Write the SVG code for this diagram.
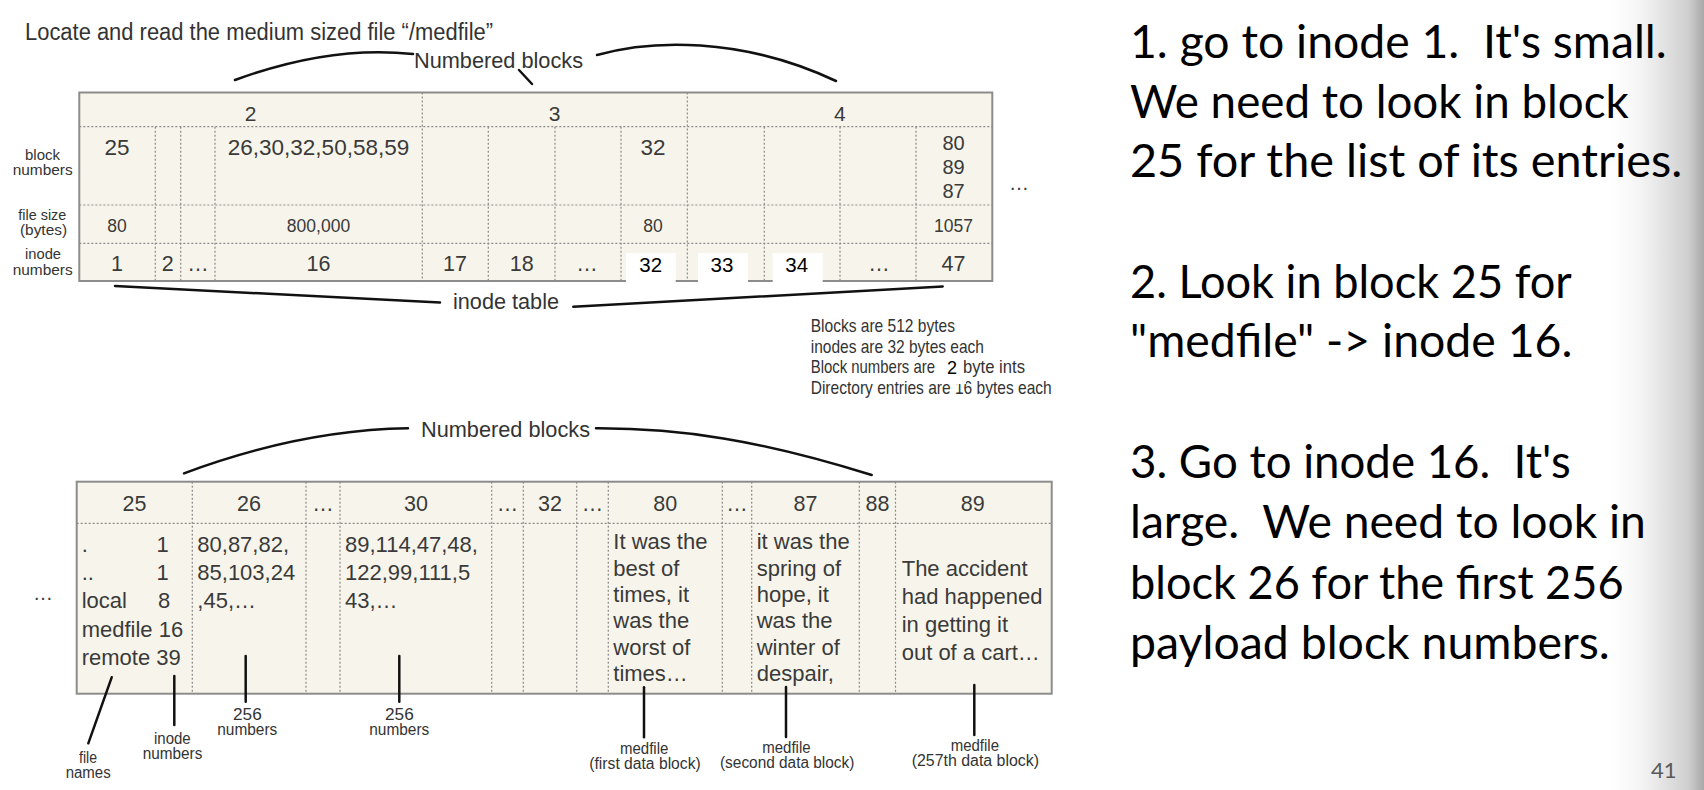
<svg xmlns="http://www.w3.org/2000/svg" width="1704" height="790" viewBox="0 0 1704 790">
<defs>
<linearGradient id="edge" x1="0" y1="0" x2="1" y2="0">
<stop offset="0" stop-color="#ffffff" stop-opacity="0"/>
<stop offset="0.55" stop-color="#e8e8e8" stop-opacity="1"/>
<stop offset="0.85" stop-color="#cfcfcf"/>
<stop offset="1" stop-color="#a8a8a8"/>
</linearGradient>
</defs>
<style>
.tbl{fill:#f7f5eb;stroke:#8c8c8c;stroke-width:2}
.dot{stroke:#8a8a8a;stroke-width:1.2;stroke-dasharray:2 2;fill:none}
.cond{font-family:"Liberation Sans Narrow","Liberation Sans",Arial,sans-serif;fill:#333}
.num{font-family:"Liberation Sans",Arial,sans-serif;fill:#3a3a3a}
.blk{font-family:"Liberation Sans",Arial,sans-serif;fill:#000}
.big{font-family:Lato,"Open Sans",sans-serif;font-size:46px;fill:#000}
.ln{stroke:#111;stroke-width:2.5;fill:none;stroke-linecap:round}
.c{text-anchor:middle}
</style>
<rect x="0" y="0" width="1704" height="790" fill="#ffffff"/>
<rect x="1600" y="0" width="104" height="790" fill="url(#edge)"/>

<g id="title">
<text class="cond" x="25" y="40" font-size="23" textLength="468" lengthAdjust="spacingAndGlyphs">Locate and read the medium sized file “/medfile”</text>
</g>

<g id="inode-table">
<rect class="tbl" x="79.3" y="92.5" width="913" height="188.5"/>
<line class="dot" x1="79.3" y1="126.7" x2="992.3" y2="126.7"/>
<line class="dot" x1="79.3" y1="205" x2="992.3" y2="205"/>
<line class="dot" x1="79.3" y1="243.3" x2="992.3" y2="243.3"/>
<line class="dot" x1="422.3" y1="92.5" x2="422.3" y2="281"/>
<line class="dot" x1="687.3" y1="92.5" x2="687.3" y2="281"/>
<line class="dot" x1="155.3" y1="126.7" x2="155.3" y2="281"/>
<line class="dot" x1="180.7" y1="126.7" x2="180.7" y2="281"/>
<line class="dot" x1="215" y1="126.7" x2="215" y2="281"/>
<line class="dot" x1="488.3" y1="126.7" x2="488.3" y2="281"/>
<line class="dot" x1="555" y1="126.7" x2="555" y2="281"/>
<line class="dot" x1="621" y1="126.7" x2="621" y2="281"/>
<line class="dot" x1="764.3" y1="126.7" x2="764.3" y2="281"/>
<line class="dot" x1="840" y1="126.7" x2="840" y2="281"/>
<line class="dot" x1="916" y1="126.7" x2="916" y2="281"/>
<rect x="626" y="253" width="49.7" height="30.5" fill="#ffffff"/>
<rect x="698" y="253" width="50" height="30.5" fill="#ffffff"/>
<rect x="772.7" y="253" width="50" height="30.5" fill="#ffffff"/>
<g class="num c" font-size="21">
<text x="250.7" y="121">2</text>
<text x="554.7" y="121">3</text>
<text x="839.8" y="121">4</text>
</g>
<g class="num c" font-size="22.5">
<text x="117" y="155">25</text>
<text x="318.5" y="155">26,30,32,50,58,59</text>
<text x="653" y="155">32</text>
</g>
<g class="num c" font-size="20">
<text x="953.5" y="150">80</text>
<text x="953.5" y="174">89</text>
<text x="953.5" y="198.3">87</text>
</g>
<g class="num c" font-size="17.5">
<text x="117" y="231.7">80</text>
<text x="318.5" y="231.7">800,000</text>
<text x="653" y="231.7">80</text>
<text x="953.5" y="231.7">1057</text>
</g>
<g class="num c" font-size="21.5">
<text x="117" y="271">1</text>
<text x="167.7" y="271">2</text>
<text x="198" y="271">…</text>
<text x="318.5" y="271">16</text>
<text x="455" y="271">17</text>
<text x="521.7" y="271">18</text>
<text x="587" y="271">…</text>
<text x="879" y="271">…</text>
<text x="953.5" y="271">47</text>
</g>
<g class="blk c" font-size="20.5">
<text x="650.7" y="272.3">32</text>
<text x="722" y="272.3">33</text>
<text x="796.7" y="272.3">34</text>
</g>
<text class="num c" x="1019" y="190" font-size="20">…</text>
</g>

<g id="row-labels">
<text class="cond" x="25" y="160" font-size="15" textLength="35" lengthAdjust="spacingAndGlyphs">block</text>
<text class="cond" x="12.7" y="175" font-size="15" textLength="60" lengthAdjust="spacingAndGlyphs">numbers</text>
<text class="cond" x="18.3" y="219.5" font-size="15" textLength="48" lengthAdjust="spacingAndGlyphs">file size</text>
<text class="cond" x="20" y="234.5" font-size="15" textLength="47" lengthAdjust="spacingAndGlyphs">(bytes)</text>
<text class="cond" x="25" y="259" font-size="15" textLength="36" lengthAdjust="spacingAndGlyphs">inode</text>
<text class="cond" x="12.7" y="275" font-size="15" textLength="60" lengthAdjust="spacingAndGlyphs">numbers</text>
</g>

<g id="top-labels">
<text class="cond" x="414" y="68" font-size="22" textLength="169" lengthAdjust="spacingAndGlyphs">Numbered blocks</text>
<text class="cond" x="453" y="309" font-size="22" textLength="106" lengthAdjust="spacingAndGlyphs">inode table</text>
</g>

<g id="notes">
<text class="cond" x="810.7" y="332" font-size="19" textLength="144.3" lengthAdjust="spacingAndGlyphs">Blocks are 512 bytes</text>
<text class="cond" x="810.7" y="353" font-size="19" textLength="173.3" lengthAdjust="spacingAndGlyphs">inodes are 32 bytes each</text>
<text class="cond" x="810.7" y="373" font-size="19" textLength="124.3" lengthAdjust="spacingAndGlyphs">Block numbers are</text>
<text class="cond" x="810.7" y="393.5" font-size="19" textLength="241" lengthAdjust="spacingAndGlyphs">Directory entries are 16 bytes each</text>
<rect x="938" y="357" width="28" height="27" fill="#ffffff"/>
<text class="blk" x="947" y="373.5" font-size="18">2</text>
<text class="cond" x="963" y="373" font-size="19" textLength="62" lengthAdjust="spacingAndGlyphs">byte ints</text>
</g>

<g id="data-blocks">
<rect class="tbl" x="76.7" y="481.7" width="975" height="212"/>
<line class="dot" x1="76.7" y1="523.3" x2="1051.7" y2="523.3"/>
<line class="dot" x1="192.3" y1="481.7" x2="192.3" y2="693.7"/>
<line class="dot" x1="306" y1="481.7" x2="306" y2="693.7"/>
<line class="dot" x1="340" y1="481.7" x2="340" y2="693.7"/>
<line class="dot" x1="491.7" y1="481.7" x2="491.7" y2="693.7"/>
<line class="dot" x1="523.3" y1="481.7" x2="523.3" y2="693.7"/>
<line class="dot" x1="576.7" y1="481.7" x2="576.7" y2="693.7"/>
<line class="dot" x1="608.3" y1="481.7" x2="608.3" y2="693.7"/>
<line class="dot" x1="722.3" y1="481.7" x2="722.3" y2="693.7"/>
<line class="dot" x1="751.7" y1="481.7" x2="751.7" y2="693.7"/>
<line class="dot" x1="859.3" y1="481.7" x2="859.3" y2="693.7"/>
<line class="dot" x1="895.5" y1="481.7" x2="895.5" y2="693.7"/>
<g class="num c" font-size="21.5">
<text x="134.5" y="511">25</text>
<text x="249" y="511">26</text>
<text x="323" y="511">…</text>
<text x="416" y="511">30</text>
<text x="507.5" y="511">…</text>
<text x="550" y="511">32</text>
<text x="592.5" y="511">…</text>
<text x="665.3" y="511">80</text>
<text x="737" y="511">…</text>
<text x="805.5" y="511">87</text>
<text x="877.5" y="511">88</text>
<text x="972.7" y="511">89</text>
</g>
<g class="num" font-size="22">
<text x="81.7" y="551.7">.</text>
<text x="156.5" y="551.7">1</text>
<text x="81.7" y="580">..</text>
<text x="156.5" y="580">1</text>
<text x="81.7" y="608.3">local</text>
<text x="158" y="608.3">8</text>
<text x="81.7" y="636.7">medfile 16</text>
<text x="81.7" y="665">remote 39</text>
<text x="197.3" y="551.7">80,87,82,</text>
<text x="197.3" y="580">85,103,24</text>
<text x="197.3" y="608.3">,45,…</text>
<text x="345" y="551.7">89,114,47,48,</text>
<text x="345" y="580">122,99,111,5</text>
<text x="345" y="608.3">43,…</text>
<text x="613.3" y="549.3">It was the</text>
<text x="613.3" y="575.5">best of</text>
<text x="613.3" y="602">times, it</text>
<text x="613.3" y="628.3">was the</text>
<text x="613.3" y="655">worst of</text>
<text x="613.3" y="681">times…</text>
<text x="756.7" y="549.3">it was the</text>
<text x="756.7" y="575.5">spring of</text>
<text x="756.7" y="602">hope, it</text>
<text x="756.7" y="628.3">was the</text>
<text x="756.7" y="655">winter of</text>
<text x="756.7" y="681">despair,</text>
<text x="901.7" y="576">The accident</text>
<text x="901.7" y="604">had happened</text>
<text x="901.7" y="632">in getting it</text>
<text x="901.7" y="660">out of a cart…</text>
</g>
<text class="num c" x="43" y="600" font-size="20">…</text>
</g>

<g id="bottom-labels">
<text class="cond" x="421" y="436.7" font-size="22" textLength="169" lengthAdjust="spacingAndGlyphs">Numbered blocks</text>
<text class="cond" x="79" y="763.3" font-size="16" textLength="18" lengthAdjust="spacingAndGlyphs">file</text>
<text class="cond" x="65.7" y="778.3" font-size="16" textLength="45" lengthAdjust="spacingAndGlyphs">names</text>
<text class="cond" x="154" y="744" font-size="16" textLength="36.7" lengthAdjust="spacingAndGlyphs">inode</text>
<text class="cond" x="142.7" y="759.3" font-size="16" textLength="59.6" lengthAdjust="spacingAndGlyphs">numbers</text>
<text class="cond" x="233" y="720" font-size="16" textLength="28.7" lengthAdjust="spacingAndGlyphs">256</text>
<text class="cond" x="217.3" y="735" font-size="16" textLength="60" lengthAdjust="spacingAndGlyphs">numbers</text>
<text class="cond" x="385" y="720" font-size="16" textLength="28.7" lengthAdjust="spacingAndGlyphs">256</text>
<text class="cond" x="369.3" y="735" font-size="16" textLength="60" lengthAdjust="spacingAndGlyphs">numbers</text>
<text class="cond" x="620" y="754" font-size="16" textLength="48.3" lengthAdjust="spacingAndGlyphs">medfile</text>
<text class="cond" x="589.3" y="769.3" font-size="16" textLength="111.4" lengthAdjust="spacingAndGlyphs">(first data block)</text>
<text class="cond" x="762.3" y="752.7" font-size="16" textLength="48.3" lengthAdjust="spacingAndGlyphs">medfile</text>
<text class="cond" x="720" y="768.3" font-size="16" textLength="134.3" lengthAdjust="spacingAndGlyphs">(second data block)</text>
<text class="cond" x="950.7" y="750.7" font-size="16" textLength="48.3" lengthAdjust="spacingAndGlyphs">medfile</text>
<text class="cond" x="911.7" y="766" font-size="16" textLength="127.3" lengthAdjust="spacingAndGlyphs">(257th data block)</text>
</g>

<g id="connectors">
<path class="ln" d="M235,80 Q330,45 413,54"/>
<path class="ln" d="M597,55 C650,40 740,36 836,81"/>
<path class="ln" d="M519,70 L532,84"/>
<path class="ln" d="M115,286 L440,302.5"/>
<path class="ln" d="M573.3,306.7 L942.7,286.5"/>
<path class="ln" d="M184,473.3 Q300,430 408,428.3"/>
<path class="ln" d="M596,428.3 C680,428 760,440 871.7,475"/>
<path class="ln" d="M111.7,677.3 L88.3,743.3"/>
<path class="ln" d="M174.3,676 L174.3,725"/>
<path class="ln" d="M245.7,656 L245.7,701.7"/>
<path class="ln" d="M399.3,656 L399.3,701.7"/>
<path class="ln" d="M644,687.3 L644,737.3"/>
<path class="ln" d="M786,687 L786,737"/>
<path class="ln" d="M974.3,685 L974.3,735"/>
</g>

<g id="steps">
<text class="big" x="1130" y="57.5" textLength="536.7" lengthAdjust="spacingAndGlyphs" xml:space="preserve">1. go to inode 1.  It's small.</text>
<text class="big" x="1130" y="117.5" textLength="498.8" lengthAdjust="spacingAndGlyphs">We need to look in block</text>
<text class="big" x="1130" y="177" textLength="552.3" lengthAdjust="spacingAndGlyphs">25 for the list of its entries.</text>
<text class="big" x="1130" y="297.5" textLength="441.8" lengthAdjust="spacingAndGlyphs">2. Look in block 25 for</text>
<text class="big" x="1130" y="357" textLength="442.4" lengthAdjust="spacingAndGlyphs">"medfile" -&gt; inode 16.</text>
<text class="big" x="1130" y="478" textLength="440.7" lengthAdjust="spacingAndGlyphs" xml:space="preserve">3. Go to inode 16.  It's</text>
<text class="big" x="1130" y="538" textLength="515.9" lengthAdjust="spacingAndGlyphs" xml:space="preserve">large.  We need to look in</text>
<text class="big" x="1130" y="599" textLength="493.6" lengthAdjust="spacingAndGlyphs">block 26 for the first 256</text>
<text class="big" x="1130" y="659" textLength="479.8" lengthAdjust="spacingAndGlyphs">payload block numbers.</text>
</g>

<g id="page-number">
<text x="1651" y="778" font-family="Lato,'Open Sans',sans-serif" font-size="22" fill="#595959">41</text>
</g>
</svg>
